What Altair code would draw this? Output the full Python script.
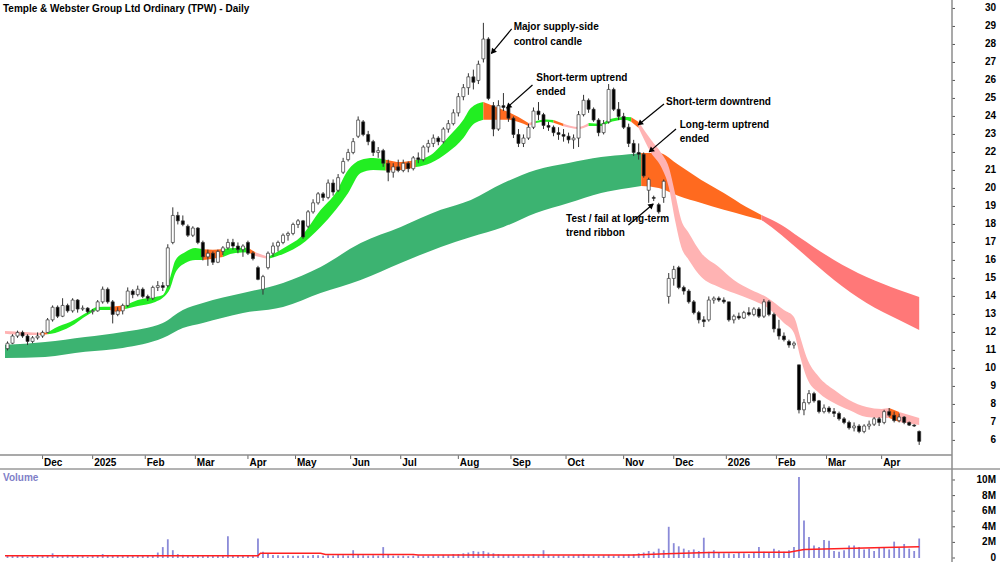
import math
import altair as alt
import pandas as pd

FONT = "Liberation Sans"

# ---------------- candles: one bar per 2 trading days, (open, high, low, close) ----------------
nov24 = [(11.1,11.5,11.0,11.4),(11.4,11.9,11.35,11.8),(11.8,12.1,11.7,12.0),(12.0,12.1,11.7,11.8),
         (11.8,11.9,11.3,11.5),(11.5,11.8,11.4,11.7),(11.7,12.0,11.6,11.8),(11.8,12.1,11.7,12.0)]
dec24 = [(12.0,12.8,11.95,12.7),(12.7,13.5,12.6,13.4),(13.4,13.5,12.8,12.9),(12.9,13.9,12.85,13.5),
         (13.5,13.6,13.1,13.2),(13.2,13.9,13.1,13.8),(13.8,13.85,13.1,13.3),(13.3,13.5,13.2,13.35),
         (13.35,13.4,13.05,13.15),(13.15,13.3,13.0,13.2)]
jan25 = [(13.2,13.8,13.15,13.7),(13.7,14.55,13.6,14.4),(14.4,14.5,13.6,13.7),(13.7,13.8,12.5,13.0),
         (13.0,13.4,12.9,13.2),(13.2,13.6,13.0,13.5),(13.5,14.5,13.4,14.3),(14.3,14.4,13.9,14.1),
         (14.1,14.6,14.0,14.4),(14.4,14.5,13.9,14.0)]
feb25 = [(14.0,14.1,13.75,13.9),(13.9,14.6,13.8,14.5),(14.5,14.85,14.3,14.6),(14.6,14.8,14.3,14.5),
         (14.6,16.9,14.5,16.7),(17.0,18.95,16.9,18.5),(18.5,18.7,18.0,18.2),(18.2,18.5,17.9,18.0),
         (17.9,18.0,17.3,17.4),(17.4,17.9,17.3,17.8),(17.8,17.85,16.9,17.0)]
mar25 = [(17.0,17.1,16.0,16.2),(16.2,16.6,15.7,16.4),(16.4,16.5,15.75,15.9),(15.9,16.6,15.85,16.5),
         (16.5,16.8,16.3,16.7),(16.7,17.2,16.6,17.0),(17.0,17.2,16.6,16.8),(16.8,17.0,16.4,16.6),
         (16.6,16.9,16.2,16.8),(17.0,17.1,16.3,16.4)]
apr25 = [(16.4,16.5,16.0,16.1),(15.6,15.7,14.9,14.95),(14.4,15.2,14.1,15.1),(15.6,16.5,15.5,16.4),
         (16.4,17.0,16.2,16.8),(16.8,17.1,16.5,17.0),(17.0,17.5,16.9,17.4),(17.4,17.6,17.1,17.5),
         (17.5,18.1,17.4,18.0)]
may25 = [(18.0,18.3,17.8,18.2),(18.2,18.25,17.2,17.3),(17.9,18.8,17.8,18.7),(18.7,19.4,18.6,19.2),
         (19.2,19.8,19.1,19.7),(19.7,19.8,19.3,19.5),(19.5,20.5,19.4,20.3),(20.3,20.5,19.6,19.8),
         (19.9,20.8,19.8,20.6),(20.9,21.7,20.8,21.5),(21.6,22.2,21.5,22.0)]
jun25 = [(22.0,22.8,21.9,22.6),(22.9,24.0,22.8,23.8),(23.7,23.8,22.9,23.0),(23.0,23.2,22.4,22.6),
         (22.6,22.7,21.8,22.0),(22.0,22.3,21.7,22.1),(22.1,22.2,21.2,21.4),(21.4,21.6,20.4,20.9),
         (20.9,21.4,20.6,21.2),(21.2,21.6,20.9,21.0)]
jul25 = [(21.0,21.6,20.9,21.4),(21.4,21.5,20.9,21.1),(21.1,21.8,21.0,21.7),(21.7,22.0,21.4,21.6),
         (21.6,22.4,21.5,22.3),(22.3,22.7,22.0,22.5),(22.5,23.0,22.3,22.8),(22.8,22.9,22.4,22.6),
         (22.6,23.4,22.5,23.3),(23.3,23.8,23.1,23.6),(23.6,24.4,23.5,24.2)]
aug25 = [(24.2,25.3,24.0,25.1),(25.1,25.8,24.9,25.6),(25.6,26.4,25.2,26.2),(26.2,26.6,25.5,25.9),
         (26.0,27.1,25.8,26.9),(27.2,29.2,27.0,28.3),(28.3,28.4,24.9,25.0),(24.6,24.8,22.9,23.3),
         (23.3,24.9,23.2,24.6),(24.6,25.3,24.3,24.5),(24.5,24.6,23.7,23.9)]
sep25 = [(23.9,24.0,22.8,23.0),(23.0,23.3,22.3,22.5),(22.5,23.0,22.3,22.8),(22.8,23.6,22.7,23.4),
         (23.4,24.5,23.3,24.3),(24.3,24.8,23.8,24.1),(24.1,24.2,23.3,23.5),(23.5,23.7,23.2,23.4),
         (23.4,23.5,22.9,23.1),(23.1,23.4,22.7,23.0),(23.0,23.3,22.6,22.9)]
oct25 = [(22.9,23.1,22.5,22.7),(22.7,23.0,22.2,22.8),(22.8,24.3,22.3,24.1),(24.1,25.2,24.0,24.9),
         (24.9,25.0,24.2,24.4),(24.4,24.5,23.7,23.8),(23.8,23.9,22.9,23.1),(23.1,23.8,23.0,23.6),
         (23.7,25.8,23.6,25.5),(25.5,25.6,24.3,24.4),(24.4,24.8,23.8,24.0)]
nov25 = [(24.0,24.2,23.3,23.4),(23.4,23.6,22.3,22.5),(22.5,22.7,21.8,22.0),(22.0,22.5,21.6,21.9),
         (21.9,22.0,20.6,20.7),(19.9,20.6,19.2,20.5),(19.5,19.6,19.3,19.45),(19.1,19.2,18.6,18.7),
         (19.5,20.5,19.2,20.4),(14.0,15.3,13.6,15.0),(15.0,15.7,14.6,15.5)]
dec25 = [(15.6,15.7,14.4,14.5),(14.5,14.6,14.1,14.3),(14.3,14.4,13.6,13.7),(13.7,13.8,13.0,13.1),
         (13.1,13.2,12.5,12.7),(12.7,12.9,12.3,12.6),(12.7,14.0,12.6,13.8),(13.8,14.0,13.6,13.9),
         (13.9,14.0,13.7,13.8),(13.8,13.95,13.6,13.7)]
jan26 = [(13.7,13.7,12.6,12.7),(12.7,13.0,12.5,12.9),(12.9,13.1,12.7,12.8),(12.8,13.2,12.75,13.1),
         (13.1,13.4,12.9,13.0),(13.0,13.4,12.9,13.3),(13.3,13.4,12.8,12.9),(12.9,13.85,12.8,13.7),
         (13.7,13.8,12.9,13.0),(13.0,13.1,12.0,12.2)]
feb26 = [(12.2,12.7,11.6,11.8),(11.8,12.0,11.5,11.6),(11.5,11.6,11.15,11.3),(11.3,11.5,11.1,11.4),
         (10.2,10.2,7.5,7.7),(7.7,8.3,7.4,8.1),(8.1,8.8,8.0,8.6),(8.6,8.7,8.1,8.2),
         (8.2,8.25,7.5,7.6),(7.6,8.0,7.5,7.8)]
mar26 = [(7.8,7.9,7.5,7.6),(7.6,7.8,7.3,7.5),(7.5,7.6,7.1,7.2),(7.2,7.3,6.9,7.0),
         (7.0,7.1,6.6,6.7),(6.7,7.0,6.5,6.8),(6.8,6.9,6.4,6.5),(6.5,6.9,6.4,6.8),
         (6.8,7.1,6.6,6.9),(6.9,7.3,6.8,7.2),(7.2,7.3,6.8,7.0)]
apr26 = [(7.0,7.7,6.9,7.6),(7.6,7.8,7.3,7.4),(7.4,7.6,7.0,7.1),(7.1,7.5,7.0,7.3),
         (7.3,7.35,6.9,7.0),(7.0,7.05,6.8,6.85),(6.85,6.9,6.75,6.8),(6.5,6.55,5.75,5.95)]

# ---------------- volume (millions), same 2-day slots ----------------
v_nov24 = [0.3,0.25,0.35,0.3,0.2,0.3,0.25,0.3]
v_dec24 = [0.3,0.6,0.3,0.35,0.4,0.3,0.25,0.3,0.2,0.25]
v_jan25 = [0.3,0.5,0.35,0.3,0.3,0.25,0.3,0.35,0.3,0.3]
v_feb25 = [0.3,0.35,0.7,1.4,2.4,1.0,0.5,0.4,0.35,0.3,0.35]
v_mar25 = [0.3,0.3,0.35,0.3,0.35,2.8,0.4,0.3,0.35,0.4]
v_apr25 = [0.4,2.5,0.8,0.5,0.4,0.35,0.3,0.35,0.3]
v_may25 = [0.3,0.35,0.3,0.4,0.35,0.3,0.35,0.3,0.4,0.35,0.3]
v_jun25 = [1.0,0.4,0.35,0.3,0.35,0.3,1.4,0.4,0.3,0.3]
v_jul25 = [0.3,0.25,0.3,0.35,0.3,0.3,0.35,0.3,0.4,0.35,0.5]
v_aug25 = [0.5,0.6,0.7,0.9,0.8,0.9,0.7,0.6,0.5,0.4,0.4]
v_sep25 = [0.35,0.3,0.35,0.3,0.5,0.35,1.0,0.4,0.3,0.35,0.3]
v_oct25 = [0.3,0.35,0.4,0.5,0.35,0.3,0.3,0.35,0.4,0.3,0.35]
v_nov25 = [0.4,0.45,0.5,0.6,0.7,0.9,0.8,1.2,1.0,4.0,1.9]
v_dec25 = [1.5,1.2,1.0,1.1,0.9,2.6,0.8,1.0,0.7,0.6]
v_jan26 = [0.6,0.5,0.7,0.6,0.5,0.7,1.4,0.8,0.7,1.2]
v_feb26 = [1.0,0.8,1.0,1.4,10.4,4.8,2.7,1.6,1.4,2.3]
v_mar26 = [2.2,0.9,0.8,1.0,1.6,1.6,1.4,1.1,1.2,0.9,1.3]
v_apr26 = [1.4,1.1,2.1,1.3,1.8,1.2,0.9,2.5]

# volume moving average (millions)
vma_t = [-1, 100, 101, 125, 127, 162, 164, 250, 263, 280, 312, 318, 330, 350, 364]
vma_v = [0.3, 0.3, 0.6, 0.6, 0.45, 0.45, 0.4, 0.4, 0.55, 0.7, 0.75, 1.1, 1.2, 1.35, 1.45]

# ---------------- short-term trend ribbon ----------------
st_t  = [-1, 7, 13, 16, 19, 25, 32, 36, 41, 44, 47, 52, 59, 62, 65, 67, 71, 75, 78, 82, 86, 91, 96, 99,
         104, 111, 117, 125, 131, 136, 141, 146, 151, 157, 163, 169, 176, 182, 185, 190, 195, 200, 204,
         208, 211, 215, 218, 222, 228, 232, 237, 240, 246, 249, 252, 257, 261, 264, 266.5, 269, 272,
         277, 284, 290, 297, 303, 310, 314, 316.5, 319, 324, 330, 336, 343, 349, 352, 356, 364]
st_hi = [12.08, 12.03, 11.98, 12.0, 12.25, 12.58, 13.14, 13.41, 13.42, 13.47, 13.5, 13.8, 13.97, 14.08,
         15.08, 16.0, 16.47, 16.69, 16.62, 16.6, 16.64, 16.69, 16.7, 16.45, 16.2, 16.75, 17.3, 18.8,
         19.75, 21.03, 21.58, 21.69, 21.6, 21.47, 21.58, 21.86, 22.86, 23.81, 24.47, 24.8, 24.53, 24.25,
         23.97, 23.64, 23.75, 23.83, 23.8, 23.6, 23.42, 23.64, 23.6, 23.83, 23.97, 23.95, 23.69, 22.69,
         21.97, 21.19, 19.75, 18.25, 17.53, 16.42, 15.64, 14.92, 14.36, 13.97, 13.25, 12.86, 11.75,
         10.64, 9.53, 8.81, 8.25, 7.86, 7.75, 7.8, 7.58, 7.25]
st_lo = [11.92, 11.85, 11.86, 11.9, 11.97, 12.31, 12.97, 13.25, 13.25, 13.14, 13.3, 13.47, 13.69, 13.92,
         14.47, 15.3, 15.86, 16.03, 16.02, 16.1, 16.19, 16.42, 16.45, 16.25, 16.08, 16.42, 16.86, 17.86,
         18.8, 19.75, 20.86, 21.03, 21.0, 21.03, 21.19, 21.42, 22.03, 22.8, 23.42, 23.81, 23.81, 23.81,
         23.69, 23.47, 23.64, 23.7, 23.65, 23.45, 23.3, 23.47, 23.47, 23.64, 23.81, 23.7, 23.36, 21.97,
         21.19, 20.08, 18.25, 16.75, 16.03, 15.08, 14.53, 14.19, 13.81, 13.41, 12.53, 11.97, 10.64,
         9.53, 8.64, 8.08, 7.69, 7.3, 7.25, 7.25, 7.03, 6.86]
st_segments = [(-1, 13, "#ffb3b3"), (13, 16, "#ff6a1f"), (16, 41, "#22ee22"), (41, 47, "#ff6a1f"),
               (47, 78, "#22ee22"), (78, 86, "#ff6a1f"), (86, 96, "#22ee22"), (96, 99, "#ff6a1f"),
               (99, 104, "#ffb3b3"), (104, 151, "#22ee22"), (151, 163, "#ff6a1f"), (163, 190, "#22ee22"),
               (190, 208, "#ff6a1f"), (208, 211, "#ffb3b3"), (211, 218, "#22ee22"), (218, 222, "#ff6a1f"),
               (222, 232, "#ffb3b3"), (232, 249, "#22ee22"), (249, 252, "#ff6a1f"), (252, 352, "#ffb3b3"),
               (352, 356, "#ff6a1f"), (356, 364, "#ffb3b3")]

# ---------------- long-term trend ribbon ----------------
lt_t  = [-1, 15, 31, 46, 62, 70, 78, 94, 110, 125, 141, 157, 173, 185, 198, 211, 224, 237, 248, 253,
         260, 268, 277, 286, 295, 301, 309, 316, 330, 343, 356, 364]
lt_hi = [11.31, 11.47, 11.75, 12.03, 12.53, 13.25, 13.64, 14.19, 14.75, 15.64, 16.97, 17.86, 18.81,
         19.36, 20.3, 21.03, 21.42, 21.75, 21.9, 21.97, 21.97, 21.3, 20.47, 19.75, 18.97, 18.53, 17.97,
         17.3, 16.03, 15.08, 14.36, 13.97]
lt_lo = [10.58, 10.64, 10.92, 11.14, 11.69, 12.25, 12.53, 13.08, 13.41, 14.19, 14.92, 15.86, 16.75,
         17.3, 17.86, 18.64, 19.19, 19.75, 20.03, 20.14, 20.03, 19.58, 19.19, 18.81, 18.47, 18.25, 17.42,
         16.58, 14.92, 13.64, 12.69, 12.14]
lt_segments = [(-1, 253, "#3cb371"), (253, 301, "#ff6a1f"), (301, 364, "#ff7878")]

# ---------------- axes labels ----------------
month_labels = ["Dec", "2025", "Feb", "Mar", "Apr", "May", "Jun", "Jul", "Aug", "Sep", "Oct", "Nov",
                "Dec", "2026", "Feb", "Mar", "Apr"]
month_t = [14, 34, 55, 75, 96, 115, 137, 157, 180, 201, 223, 246, 266, 287, 307, 327, 349]
price_ticks = [6, 7, 8, 9, 10, 11, 12, 13, 14, 15, 16, 17, 18, 19, 20, 21, 22, 23, 24, 25, 26, 27, 28, 29, 30]
vol_ticks = [0, 2, 4, 6, 8, 10]
vol_tick_labels = ["0", "2M", "4M", "6M", "8M", "10M"]

# ---------------- annotations ----------------
note_text = ["Major supply-side", "control candle", "Short-term uptrend", "ended", "Short-term downtrend",
             "Long-term uptrend", "ended", "Test / fail at long-term", "trend ribbon"]
note_t = [202.1, 202.1, 211.1, 211.1, 262.9, 268.4, 268.4, 223.0, 223.0]
note_p = [28.97, 28.14, 26.14, 25.36, 24.81, 23.53, 22.75, 18.3, 17.53]
arrow_t1 = [201.3, 209.6, 262.1, 266.9, 247.9]
arrow_p1 = [28.86, 25.75, 24.69, 23.3, 17.97]
arrow_t2 = [193.2, 199.3, 251.8, 256.2, 257.8]
arrow_p2 = [27.5, 24.47, 23.53, 22.03, 19.14]

# ================= build tables =================
months = [nov24, dec24, jan25, feb25, mar25, apr25, may25, jun25, jul25, aug25, sep25, oct25, nov25,
          dec25, jan26, feb26, mar26, apr26]
vmonths = [v_nov24, v_dec24, v_jan25, v_feb25, v_mar25, v_apr25, v_may25, v_jun25, v_jul25, v_aug25,
           v_sep25, v_oct25, v_nov25, v_dec25, v_jan26, v_feb26, v_mar26, v_apr26]
ohlc = [r for m in months for r in m]
vols = [v for m in vmonths for v in m]
cdf = pd.DataFrame({
    "t": [2 * i for i in range(len(ohlc))],
    "open": [r[0] for r in ohlc], "high": [r[1] for r in ohlc],
    "low": [r[2] for r in ohlc], "close": [r[3] for r in ohlc],
})
cdf["dir"] = ["up" if c >= o else "down" for o, c in zip(cdf["open"], cdf["close"])]
vdf = pd.DataFrame({"t": [2 * i for i in range(len(vols))], "v": vols})


def ribbon(ts, hi, lo, segs, name):
    rows = []
    for k, (a, b, col) in enumerate(segs):
        for t, h, l in zip(ts, hi, lo):
            if a <= t <= b:
                rows.append({"t": t, "hi": h, "lo": l, "seg": f"{name}{k}", "col": col})
    return pd.DataFrame(rows)


st_df = ribbon(st_t, st_hi, st_lo, st_segments, "st")
lt_df = ribbon(lt_t, lt_hi, lt_lo, lt_segments, "lt")

PX_T, PX_P = 952 / 376.1, 455 / (30.47 - 5.19)
heads = []
for t1, p1, t2, p2 in zip(arrow_t1, arrow_p1, arrow_t2, arrow_p2):
    dx = (t2 - t1) * PX_T
    dy = -(p2 - p1) * PX_P
    ln = math.hypot(dx, dy)
    ang = math.degrees(math.atan2(dx, -dy)) % 360
    heads.append({"t": t2 - 3 * dx / ln / PX_T, "p": p2 + 3 * dy / ln / PX_P, "ang": ang})
arr_df = pd.DataFrame({"t1": arrow_t1, "p1": arrow_p1, "t2": arrow_t2, "p2": arrow_p2})
head_df = pd.DataFrame(heads)
note_df = pd.DataFrame({"t": note_t, "p": note_p, "txt": note_text})

# ================= scales =================
xs = alt.Scale(domain=[-1.0, 375.1], nice=False, zero=False)
ys = alt.Scale(domain=[5.19, 30.47], range=[455, 0], nice=False, zero=False)
vs = alt.Scale(domain=[0, 11.41], range=[558, 469], nice=False, zero=False)
X = alt.X("t:Q", scale=xs, axis=None)

lt_area = alt.Chart(lt_df).mark_area(interpolate="monotone").encode(
    x=X, y=alt.Y("hi:Q", scale=ys, axis=None), y2="lo:Q",
    color=alt.Color("col:N", scale=None), detail="seg:N")
st_area = alt.Chart(st_df).mark_area(interpolate="monotone").encode(
    x=X, y=alt.Y("hi:Q", scale=ys, axis=None), y2="lo:Q",
    color=alt.Color("col:N", scale=None), detail="seg:N")

wicks = alt.Chart(cdf).mark_rule(color="#333333", strokeWidth=1).encode(
    x=X, y=alt.Y("low:Q", scale=ys, axis=None), y2="high:Q")
bodies = alt.Chart(cdf).mark_bar(size=3, stroke="#333333", strokeWidth=0.7).encode(
    x=X, y=alt.Y("open:Q", scale=ys, axis=None), y2="close:Q",
    color=alt.Color("dir:N", scale=alt.Scale(domain=["up", "down"], range=["#ffffff", "#000000"]),
                    legend=None))

arrows = alt.Chart(arr_df).mark_rule(color="#000000", strokeWidth=1.2).encode(
    x=alt.X("t1:Q", scale=xs, axis=None), y=alt.Y("p1:Q", scale=ys, axis=None),
    x2="t2:Q", y2="p2:Q")
arrow_heads = alt.Chart(head_df).mark_point(shape="triangle", filled=True, color="#000000",
                                            size=40, opacity=1).encode(
    x=X, y=alt.Y("p:Q", scale=ys, axis=None), angle=alt.Angle("ang:Q", scale=None))
notes = alt.Chart(note_df).mark_text(align="left", baseline="middle", font=FONT, fontSize=10,
                                     fontWeight="bold", color="#000000").encode(
    x=X, y=alt.Y("p:Q", scale=ys, axis=None), text="txt:N")

pdf = pd.DataFrame({"p": price_ticks, "lab": [str(v) for v in price_ticks]})
plabels = alt.Chart(pdf).mark_text(align="right", baseline="middle", font=FONT, fontSize=10,
                                   fontWeight="bold", color="#000000").encode(
    x=alt.value(996), y=alt.Y("p:Q", scale=ys, axis=None), text="lab:N")
pticks = alt.Chart(pdf).mark_rule(color="#555555").encode(
    x=alt.value(952), x2=alt.value(955), y=alt.Y("p:Q", scale=ys, axis=None))

price = alt.layer(lt_area, st_area, wicks, bodies, arrows, arrow_heads, notes, plabels, pticks)

vbars = alt.Chart(vdf).mark_bar(size=1.8, color="#8a8ad8").encode(
    x=X, y=alt.Y("v:Q", scale=vs, axis=None), y2=alt.datum(0))
vma = alt.Chart(pd.DataFrame({"t": vma_t, "v": vma_v})).mark_line(
    color="#ff2020", strokeWidth=1.5).encode(x=X, y=alt.Y("v:Q", scale=vs, axis=None))
vlab_df = pd.DataFrame({"v": vol_ticks, "lab": vol_tick_labels})
vlabels = alt.Chart(vlab_df).mark_text(align="right", baseline="middle", font=FONT, fontSize=10,
                                       fontWeight="bold", color="#000000").encode(
    x=alt.value(996), y=alt.Y("v:Q", scale=vs, axis=None), text="lab:N")
vticks = alt.Chart(vlab_df).mark_rule(color="#555555").encode(
    x=alt.value(952), x2=alt.value(955), y=alt.Y("v:Q", scale=vs, axis=None))
vol = alt.layer(vbars, vma, vlabels, vticks)

one = pd.DataFrame({"k": [0]})
mdf = pd.DataFrame({"t": month_t, "lab": month_labels})
mlabels = alt.Chart(mdf).mark_text(align="left", baseline="middle", dx=1.5, font=FONT, fontSize=10,
                                   fontWeight="bold", color="#000000").encode(
    x=X, y=alt.value(463), text="lab:N")
mticks = alt.Chart(mdf).mark_rule(color="#666666").encode(x=X, y=alt.value(455), y2=alt.value(459))
hline1 = alt.Chart(one).mark_rule(color="#8c8c8c", strokeWidth=1.5).encode(
    x=alt.value(0), x2=alt.value(952), y=alt.value(455))
hline2 = alt.Chart(one).mark_rule(color="#666666", strokeWidth=1).encode(
    x=alt.value(0), x2=alt.value(1000), y=alt.value(469))
vline = alt.Chart(one).mark_rule(color="#8c8c8c", strokeWidth=1.5).encode(
    x=alt.value(952), y=alt.value(0), y2=alt.value(562))
title = alt.Chart(one).mark_text(align="left", baseline="middle", font=FONT, fontSize=10,
                                 fontWeight="bold", color="#000000",
                                 text="Temple & Webster Group Ltd Ordinary (TPW) - Daily").encode(
    x=alt.value(3), y=alt.value(9))
vtitle = alt.Chart(one).mark_text(align="left", baseline="middle", font=FONT, fontSize=10,
                                  fontWeight="bold", color="#7f7fc8", text="Volume").encode(
    x=alt.value(3), y=alt.value(478))

chart = alt.layer(price, vol, mlabels, mticks, hline1, hline2, vline, title, vtitle).resolve_scale(
    y="independent"
).properties(
    width=952, height=562,
    padding={"left": 0, "right": 48, "top": 0, "bottom": 0},
    autosize=alt.AutoSizeParams(type="none"),
    background="white",
).configure_view(stroke=None)

chart.save("out.html", embed_options={"renderer": "svg", "actions": False})
